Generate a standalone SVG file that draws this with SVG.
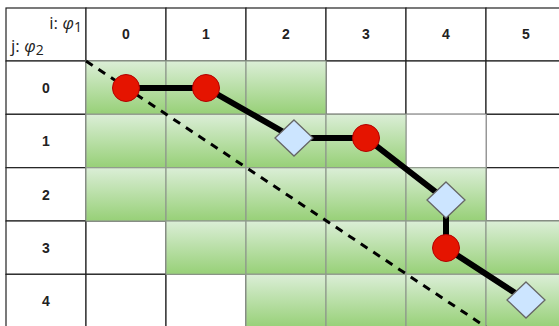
<svg xmlns="http://www.w3.org/2000/svg" width="559" height="326" viewBox="0 0 559 326">
<defs>
<linearGradient id="g" x1="0" y1="0" x2="0" y2="1">
<stop offset="0" stop-color="#dbeed7"/>
<stop offset="1" stop-color="#97d077"/>
</linearGradient>
<style>
.w{fill:#fff;stroke:#222;stroke-width:1.2}
.gc{fill:url(#g);stroke:#8f9a8c;stroke-width:1.2}
.wg{fill:#fff;stroke:#aaa;stroke-width:1.2}
.n{font-family:"Liberation Sans",Arial,sans-serif;font-weight:bold;font-size:14px;fill:#222;text-anchor:middle}
.h{font-family:"Open Sans","Liberation Sans",sans-serif;font-size:17px;fill:#222}
.dot{fill:#e51400;stroke:#b20000;stroke-width:1}
.dia{fill:#cce5ff;stroke:#666;stroke-width:1.3}
</style>
</defs>
<g id="grid">
<rect class="w" x="6" y="8" width="80" height="53"/>
<rect class="w" x="86" y="8" width="80" height="53"/>
<rect class="w" x="166" y="8" width="80" height="53"/>
<rect class="w" x="246" y="8" width="80" height="53"/>
<rect class="w" x="326" y="8" width="80" height="53"/>
<rect class="w" x="406" y="8" width="80" height="53"/>
<rect class="w" x="486" y="8" width="80" height="53"/>
<rect class="w" x="6" y="61" width="80" height="53.3"/>
<rect class="w" x="6" y="114.3" width="80" height="53.3"/>
<rect class="w" x="6" y="167.7" width="80" height="53.3"/>
<rect class="w" x="6" y="221" width="80" height="53.3"/>
<rect class="w" x="6" y="274.3" width="80" height="53.3"/>
<rect class="w" x="326" y="61" width="80" height="53.3"/>
<rect class="w" x="406" y="61" width="80" height="53.3"/>
<rect class="w" x="486" y="61" width="80" height="53.3"/>
<rect class="w" x="486" y="114.3" width="80" height="53.3"/>
<rect class="w" x="486" y="167.7" width="80" height="53.3"/>
<rect class="w" x="86" y="221" width="80" height="53.3"/>
<rect class="w" x="86" y="274.3" width="80" height="53.3"/>
<rect class="w" x="166" y="274.3" width="80" height="53.3"/>
<rect class="wg" x="406" y="114.3" width="80" height="53.3"/>
</g>
<g id="green-cells">
<rect class="gc" x="86" y="61" width="80" height="53.3"/>
<rect class="gc" x="166" y="61" width="80" height="53.3"/>
<rect class="gc" x="246" y="61" width="80" height="53.3"/>
<rect class="gc" x="86" y="114.3" width="80" height="53.3"/>
<rect class="gc" x="166" y="114.3" width="80" height="53.3"/>
<rect class="gc" x="246" y="114.3" width="80" height="53.3"/>
<rect class="gc" x="326" y="114.3" width="80" height="53.3"/>
<rect class="gc" x="86" y="167.7" width="80" height="53.3"/>
<rect class="gc" x="166" y="167.7" width="80" height="53.3"/>
<rect class="gc" x="246" y="167.7" width="80" height="53.3"/>
<rect class="gc" x="326" y="167.7" width="80" height="53.3"/>
<rect class="gc" x="406" y="167.7" width="80" height="53.3"/>
<rect class="gc" x="166" y="221" width="80" height="53.3"/>
<rect class="gc" x="246" y="221" width="80" height="53.3"/>
<rect class="gc" x="326" y="221" width="80" height="53.3"/>
<rect class="gc" x="406" y="221" width="80" height="53.3"/>
<rect class="gc" x="486" y="221" width="80" height="53.3"/>
<rect class="gc" x="246" y="274.3" width="80" height="53.3"/>
<rect class="gc" x="326" y="274.3" width="80" height="53.3"/>
<rect class="gc" x="406" y="274.3" width="80" height="53.3"/>
<rect class="gc" x="486" y="274.3" width="80" height="53.3"/>
</g>
<g id="labels">
<text class="h" x="82" y="29" text-anchor="end">i: <tspan font-style="italic">φ</tspan><tspan font-size="14" dy="3">1</tspan></text>
<text class="h" x="11" y="52">j: <tspan font-style="italic">φ</tspan><tspan font-size="14" dy="3">2</tspan></text>
<text class="n" x="126" y="39">0</text>
<text class="n" x="206" y="39">1</text>
<text class="n" x="286" y="39">2</text>
<text class="n" x="366" y="39">3</text>
<text class="n" x="446" y="39">4</text>
<text class="n" x="526" y="39">5</text>
<text class="n" x="46" y="92.5">0</text>
<text class="n" x="46" y="146">1</text>
<text class="n" x="46" y="199.5">2</text>
<text class="n" x="46" y="252.5">3</text>
<text class="n" x="46" y="306">4</text>
</g>
<g id="connectors">
<path d="M86 61 L486 327" fill="none" stroke="#000" stroke-width="3" stroke-dasharray="8 7"/>
<path d="M126 88 L206 88 L294 138 L366 138 L446 200 L446 248 L526 300" fill="none" stroke="#000" stroke-width="6" stroke-linejoin="miter"/>
</g>
<g id="c1"><circle class="dot" cx="126" cy="88" r="13.5"/></g>
<g id="c2"><circle class="dot" cx="206" cy="88" r="13.5"/></g>
<g id="d1"><polygon class="dia" points="294,120 313,138 294,156 275,138"/></g>
<g id="c3"><circle class="dot" cx="366" cy="138" r="13.5"/></g>
<g id="d2"><polygon class="dia" points="446,182 465,200 446,218 427,200"/></g>
<g id="c4"><circle class="dot" cx="446" cy="248" r="13.5"/></g>
<g id="d3"><polygon class="dia" points="526,282 545,300 526,318 507,300"/></g>
</svg>
